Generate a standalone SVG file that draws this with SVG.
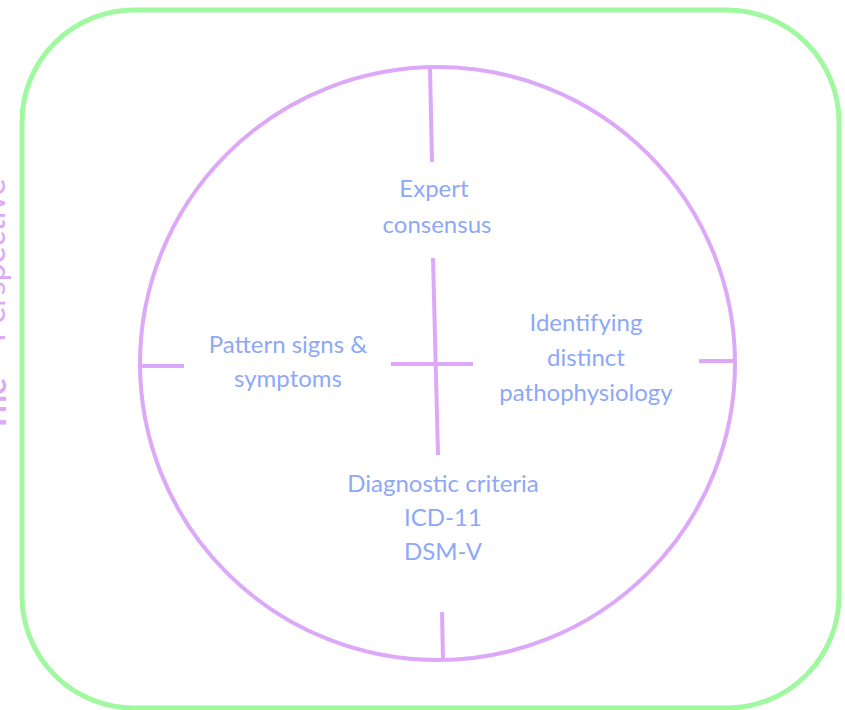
<svg xmlns="http://www.w3.org/2000/svg" width="845" height="710" viewBox="0 0 845 710">
  <style>
    .frame { fill: none; stroke: #a0f8a0; stroke-width: 5; }
    .ring { fill: none; stroke: #dda8f8; stroke-width: 4; }
    .tick { stroke: #dda8f8; stroke-width: 4; stroke-linecap: butt; }
    .label { font-family: Lato, "Open Sans", sans-serif; font-size: 24px; fill: #8ea8f8; text-anchor: middle; }
    .side { font-family: Lato, "Open Sans", sans-serif; font-size: 32px; fill: #dda8f8; }
  </style>

  <!-- vertical title running up the left margin, partly outside the page -->
  <g id="side-title">
    <text class="side" font-weight="bold" font-size="44" transform="translate(6 432) rotate(-90)">The</text>
    <text class="side" transform="translate(5 342) rotate(-90)">Perspective</text>
  </g>

  <g id="frame">
    <rect class="frame" x="22" y="10" width="817" height="698" rx="112" ry="112"/>
  </g>

  <g id="ring">
    <ellipse class="ring" cx="437.5" cy="363.5" rx="297.5" ry="296.5"/>
  </g>

  <g id="connectors">
    <line class="tick" x1="430" y1="68" x2="432" y2="162"/>
    <line class="tick" x1="442" y1="612" x2="443" y2="660"/>
    <line class="tick" x1="140" y1="366" x2="184" y2="366"/>
    <line class="tick" x1="699" y1="361" x2="735" y2="361"/>
    <line class="tick" x1="433" y1="258" x2="438" y2="455"/>
    <line class="tick" x1="391" y1="364" x2="473" y2="364"/>
  </g>

  <g id="expert-consensus">
    <text class="label" x="434" y="197">Expert</text>
    <text class="label" x="437" y="233">consensus</text>
  </g>

  <g id="pattern-signs">
    <text class="label" x="288" y="353">Pattern signs &amp;</text>
    <text class="label" x="288" y="387">symptoms</text>
  </g>

  <g id="pathophysiology">
    <text class="label" x="586" y="331">Identifying</text>
    <text class="label" x="586" y="366">distinct</text>
    <text class="label" x="586" y="401">pathophysiology</text>
  </g>

  <g id="diagnostic-criteria">
    <text class="label" x="443" y="492">Diagnostic criteria</text>
    <text class="label" x="443" y="526">ICD-11</text>
    <text class="label" x="443" y="560">DSM-V</text>
  </g>
</svg>
